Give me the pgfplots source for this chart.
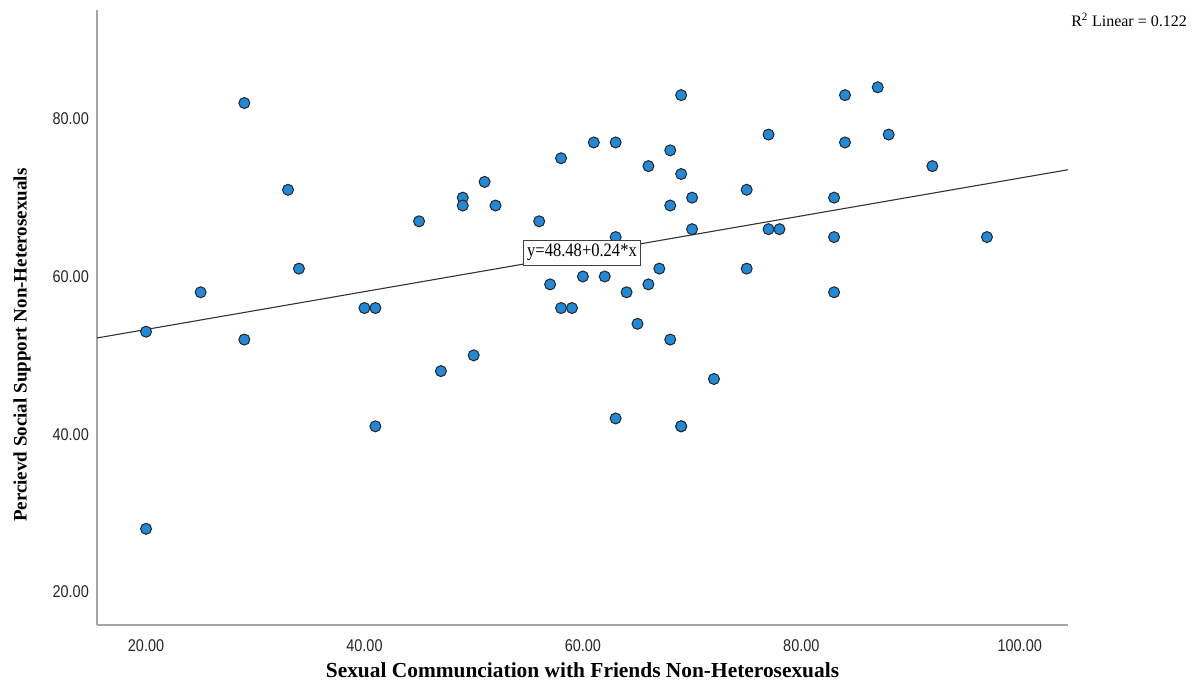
\documentclass[border=0pt]{standalone}
\usepackage{fontspec}
\setmainfont{Liberation Serif}
\newfontfamily\tickfam[FakeStretch=0.85]{Liberation Sans}
\newfontfamily\boxfam[FakeStretch=0.87]{Liberation Serif}
\usepackage{pgfplots}
\pgfplotsset{compat=1.18}
\definecolor{dotblue}{RGB}{33,137,216}
\definecolor{axgray}{RGB}{165,165,165}
\begin{document}
\begin{tikzpicture}
\path[use as bounding box] (0,0) rectangle (1198bp,693bp);
\begin{axis}[
  at={(97bp,68bp)}, anchor=south west,
  scale only axis, width=971bp, height=615bp,
  xmin=15.51, xmax=104.42, ymin=15.8, ymax=93.8,
  axis x line=bottom, axis y line=left,
  axis line style={-, draw=axgray, line width=1.5bp},
  major tick length=0pt,
  xtick={20,40,60,80,100}, ytick={20,40,60,80},
  /pgf/number format/assume math mode=true,
  /pgf/number format/.cd, fixed, fixed zerofill, precision=2, /pgfplots/.cd,
  ticklabel style={font=\tickfam\fontsize{17bp}{20bp}\selectfont, inner sep=0pt, text=black!85},
  xticklabel style={yshift=-14bp},
  yticklabel style={xshift=-8bp},
  xlabel={Sexual Communciation with Friends Non-Heterosexuals},
  ylabel={Percievd Social Support Non-Heterosexuals},
  xlabel style={at={(axis description cs:0.5,-0.0846)}, anchor=base, font=\bfseries\fontsize{21.4bp}{24bp}\selectfont},
  ylabel style={at={(axis description cs:-0.0726,0.455)}, anchor=base, font=\bfseries\fontsize{19bp}{22bp}\selectfont},
  clip=false,
]
\addplot[draw=black!80, line width=1.1bp] coordinates {(15.51,52.2024) (104.42,73.5408)};
\addplot[only marks, mark=*, mark size=5.5bp, mark options={fill=dotblue, draw=black!85, line width=1bp}] coordinates {
(20,53) (20,28) (25,58) (29,82) (29,52) (33,71) (34,61) (40,56) (41,56) (41,41)
(45,67) (47,48) (49,70) (49,69) (50,50) (51,72) (52,69) (56,67) (57,59) (58,75)
(58,56) (59,56) (60,60) (61,77) (62,60) (63,77) (63,65) (63,42) (64,58) (65,54)
(66,74) (66,59) (67,61) (68,76) (68,69) (68,52) (69,83) (69,73) (69,41) (69,41)
(70,70) (70,66) (72,47) (75,71) (75,61) (77,78) (77,66) (78,66) (83,70) (83,65)
(83,58) (84,83) (84,77) (87,84) (88,78) (92,74) (97,65)
};
\end{axis}
\node[draw=black!75, line width=0.8bp, fill=white, inner xsep=4bp, inner ysep=0pt, minimum height=25bp, font=\boxfam\fontsize{19bp}{22bp}\selectfont] at (582bp,440.5bp) {y=48.48+0.24*x};
\node[anchor=base east, inner sep=0pt, font=\fontsize{16bp}{19bp}\selectfont] at (1187bp,666bp) {R\textsuperscript{2} Linear = 0.122};
\end{tikzpicture}
\end{document}
